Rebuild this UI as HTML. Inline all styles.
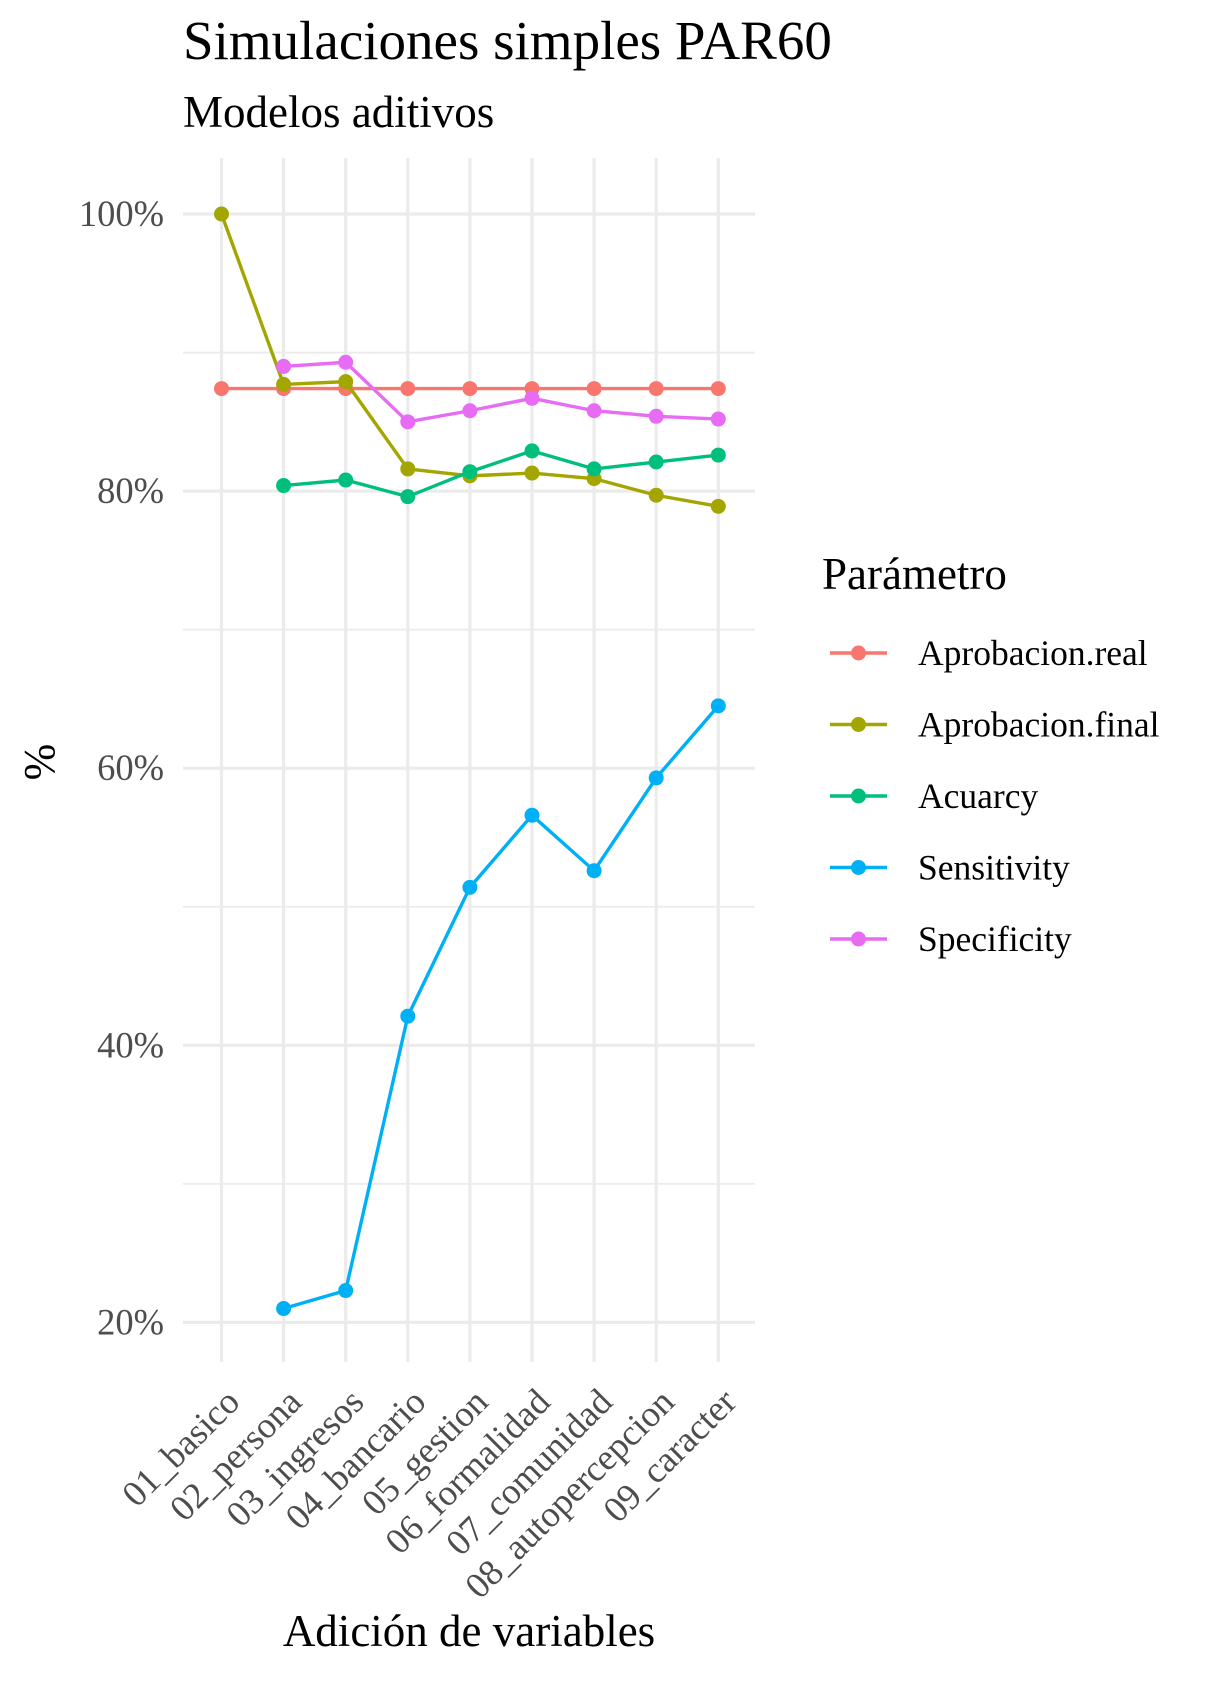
<!DOCTYPE html>
<html><head><meta charset="utf-8"><style>
body{margin:0;background:#fff}
svg{display:block;font-family:"Liberation Serif",serif}
</style></head><body>
<svg id="chart" width="1210" height="1687" viewBox="0 0 1210 1687" xmlns="http://www.w3.org/2000/svg">
<text x="183" y="59" font-size="55" fill="#000">Simulaciones simples PAR60</text>
<text x="183" y="127" font-size="45" fill="#000">Modelos aditivos</text>
<g id="grid"></g>
<g id="marks"></g>
<g id="axes"></g>
<text transform="translate(54,762) rotate(-90)" text-anchor="middle" font-size="44">%</text>
<text x="469" y="1646" text-anchor="middle" font-size="45">Adición de variables</text>
<g id="legend"></g>
</svg>
<script>
const categories=["01_basico","02_persona","03_ingresos","04_bancario","05_gestion","06_formalidad","07_comunidad","08_autopercepcion","09_caracter"];
const seriesNames=["Aprobacion.real","Aprobacion.final","Acuarcy","Sensitivity","Specificity"];
const aprobacionReal=[87.4,87.4,87.4,87.4,87.4,87.4,87.4,87.4,87.4];
const aprobacionFinal=[100,87.7,87.9,81.6,81.1,81.3,80.9,79.7,78.9];
const acuarcy=[null,80.4,80.8,79.6,81.4,82.9,81.6,82.1,82.6];
const sensitivity=[null,21.0,22.3,42.1,51.4,56.6,52.6,59.3,64.5];
const specificity=[null,89.0,89.3,85.0,85.8,86.7,85.8,85.4,85.2];
const yTicks=[20,40,60,80,100];
const yTickLabels=["20%","40%","60%","80%","100%"];
const yMinor=[30,50,70,90];
const colors=["#F8766D","#A3A500","#00BF7D","#00B0F6","#E76BF3"];
const NS="http://www.w3.org/2000/svg";
const px0=183,px1=755,py0=158,py1=1362;
const xS=i=>221.5+i*62.1;
const yS=v=>214+(100-v)/20*277.1;
function mk(tag,attrs,parent){const e=document.createElementNS(NS,tag);for(const k in attrs)e.setAttribute(k,attrs[k]);parent.appendChild(e);return e;}
const grid=document.getElementById('grid'),marks=document.getElementById('marks'),axes=document.getElementById('axes'),legend=document.getElementById('legend');
yMinor.forEach(v=>{const l=mk('line',{x1:px0,x2:px1,y1:yS(v),y2:yS(v),stroke:'#ebebeb','stroke-width':1.8},grid);

});
yTicks.forEach((v,i)=>{const l=mk('line',{x1:px0,x2:px1,y1:yS(v),y2:yS(v),stroke:'#ebebeb','stroke-width':3.2},grid);


const t=mk('text',{x:164,y:yS(v)+12,'text-anchor':'end','font-size':36.5,fill:'#4d4d4d'},axes);t.textContent=yTickLabels[i];

});
categories.forEach((c,i)=>{const l=mk('line',{x1:xS(i),x2:xS(i),y1:py0,y2:py1,stroke:'#ebebeb','stroke-width':3.2},grid);


const t=mk('text',{transform:`translate(${xS(i)+20},1404) rotate(-45)`,'text-anchor':'end','font-size':36.5,fill:'#4d4d4d'},axes);t.textContent=c;

});
const data=[aprobacionReal,aprobacionFinal,acuarcy,sensitivity,specificity];
data.forEach((s,k)=>{let d='';s.forEach((v,i)=>{if(v==null)return;d+=(d?'L':'M')+xS(i)+' '+yS(v);});
const p=mk('path',{d:d,fill:'none',stroke:colors[k],'stroke-width':3.4},marks);


s.forEach((v,i)=>{if(v==null)return;const c=mk('circle',{cx:xS(i),cy:yS(v),r:7.5,fill:colors[k]},marks);

});});
const lt=mk('text',{x:822,y:589,'font-size':45},legend);lt.textContent='Parámetro';


seriesNames.forEach((n,k)=>{const y=653+k*71.5;
const g=mk('g',{},legend);


mk('line',{x1:830,x2:887,y1:y,y2:y,stroke:colors[k],'stroke-width':3.4},g);
mk('circle',{cx:858.5,cy:y,r:7.5,fill:colors[k]},g);
const t=mk('text',{x:918,y:y+12,'font-size':35.5},g);t.textContent=n;});
</script>
</body></html>
